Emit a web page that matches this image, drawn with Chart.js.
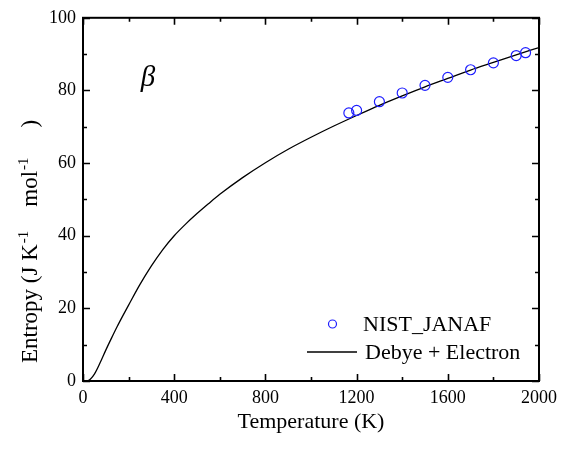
<!DOCTYPE html>
<html>
<head>
<meta charset="utf-8">
<script src="https://cdn.jsdelivr.net/npm/chart.js@4/dist/chart.umd.min.js"></script>
<style>
  html, body { margin: 0; padding: 0; background: #fff; }
  canvas { display: block; }
</style>
</head>
<body>
<canvas id="c" width="572" height="451"></canvas>
<script>
// Debye + electron model curve (temperature in K, entropy in J K^-1 mol^-1)
const modelT = [0, 25, 50, 75, 100, 125, 150, 175, 200, 250, 300, 350, 400, 450, 500, 550,
                600, 700, 800, 900, 1000, 1100, 1200, 1300, 1400, 1500, 1600, 1700, 1800, 1900, 2000];
const modelS = [0, 0.2, 1.9, 5.0, 8.5, 11.8, 15.0, 18.0, 20.9, 26.6, 31.7, 36.2, 40.0, 43.2, 46.1, 48.8,
                51.4, 56.0, 60.1, 63.8, 67.1, 70.2, 73.1, 75.9, 78.5, 81.0, 83.3, 85.6, 87.7, 89.8, 91.8];

// NIST-JANAF tabulated values
const janafT = [1166, 1200, 1300, 1400, 1500, 1600, 1700, 1800, 1900, 1941];
const janafS = [73.8, 74.5, 76.9, 79.3, 81.4, 83.6, 85.7, 87.6, 89.6, 90.4];

// Axis ticks
const xMajor = [0, 400, 800, 1200, 1600, 2000];
const xMinor = [200, 600, 1000, 1400, 1800];
const yMajor = [0, 20, 40, 60, 80, 100];
const yMinor = [10, 30, 50, 70, 90];

const SERIF = '"Liberation Serif", "Times New Roman", serif';

const toPoints = (xs, ys) => xs.map((v, i) => ({ x: v, y: ys[i] }));

// Boxed frame with inward ticks on all four sides
const framePlugin = {
  id: 'frame',
  afterDatasetsDraw(chart) {
    const { ctx, chartArea: a, scales: { x, y } } = chart;
    ctx.save();
    ctx.strokeStyle = '#000';
    ctx.lineWidth = 2;
    ctx.strokeRect(a.left, a.top, a.right - a.left, a.bottom - a.top);
    ctx.lineWidth = 1.6;
    ctx.beginPath();
    const tickX = (v, len) => {
      const px = Math.round(x.getPixelForValue(v)) + 0.5;
      ctx.moveTo(px, a.bottom); ctx.lineTo(px, a.bottom - len);
      ctx.moveTo(px, a.top); ctx.lineTo(px, a.top + len);
    };
    const tickY = (v, len) => {
      const py = Math.round(y.getPixelForValue(v)) + 0.5;
      ctx.moveTo(a.left, py); ctx.lineTo(a.left + len, py);
      ctx.moveTo(a.right, py); ctx.lineTo(a.right - len, py);
    };
    xMajor.forEach(v => tickX(v, 7));
    xMinor.forEach(v => tickX(v, 4));
    yMajor.forEach(v => tickY(v, 7));
    yMinor.forEach(v => tickY(v, 4));
    ctx.stroke();
    ctx.restore();
  }
};

// Axis titles, phase label and legend
const annotatePlugin = {
  id: 'annotate',
  afterDraw(chart) {
    const { ctx, chartArea: a, scales: { x, y } } = chart;
    ctx.save();
    ctx.fillStyle = '#000';

    // x title
    ctx.font = '22px ' + SERIF;
    ctx.textAlign = 'center';
    ctx.textBaseline = 'alphabetic';
    ctx.fillText('Temperature (K)', (a.left + a.right) / 2, 428);

    // y title with superscripts, rotated
    ctx.save();
    ctx.translate(37, 363);
    ctx.rotate(-Math.PI / 2);
    ctx.textAlign = 'left';
    const parts = [
      ['Entropy (J K', false, 1], ['-1', true, 24], ['mol', false, 1], ['-1', true, 30], [')', false, 0]
    ];
    let cx = 0;
    parts.forEach(([t, sup, gap]) => {
      ctx.font = (sup ? '15px ' : '23px ') + SERIF;
      ctx.fillText(t, cx, sup ? -9 : 0);
      cx += ctx.measureText(t).width + gap;
    });
    ctx.restore();

    // phase label
    ctx.font = 'italic 29px ' + SERIF;
    ctx.textAlign = 'center';
    ctx.textBaseline = 'alphabetic';
    ctx.fillText('\u03B2', x.getPixelForValue(285), y.getPixelForValue(81.2));

    // legend
    const ds = chart.data.datasets;
    ctx.font = '22px ' + SERIF;
    ctx.textAlign = 'left';
    ctx.textBaseline = 'middle';
    ctx.strokeStyle = ds[0].borderColor;
    ctx.lineWidth = 1.2;
    ctx.beginPath();
    ctx.arc(332.5, 324, 4, 0, Math.PI * 2);
    ctx.stroke();
    ctx.fillText(ds[0].label, 363, 325);
    ctx.strokeStyle = ds[1].borderColor;
    ctx.lineWidth = ds[1].borderWidth;
    ctx.beginPath();
    ctx.moveTo(307, 352);
    ctx.lineTo(357, 352);
    ctx.stroke();
    ctx.fillText(ds[1].label, 365, 353);
    ctx.restore();
  }
};

new Chart(document.getElementById('c'), {
  type: 'scatter',
  data: {
    datasets: [
      {
        label: 'NIST_JANAF',
        data: toPoints(janafT, janafS),
        showLine: false,
        pointStyle: 'circle',
        pointRadius: 5,
        pointBorderWidth: 1.2,
        borderColor: '#1f1fff',
        backgroundColor: 'rgba(0,0,0,0)',
        pointBackgroundColor: 'rgba(0,0,0,0)',
        order: 0
      },
      {
        label: 'Debye + Electron',
        data: toPoints(modelT, modelS),
        showLine: true,
        pointRadius: 0,
        borderColor: '#000',
        borderWidth: 1.3,
        cubicInterpolationMode: 'monotone',
        fill: false,
        order: 1
      }
    ]
  },
  options: {
    responsive: false,
    animation: false,
    devicePixelRatio: 1,
    layout: { padding: { left: 0, top: 13, right: 33, bottom: 0 } },
    plugins: { legend: { display: false }, tooltip: { enabled: false } },
    scales: {
      x: {
        type: 'linear',
        min: 0, max: 2000,
        grid: { display: false, drawTicks: false },
        border: { display: false },
        afterFit: s => { s.height = 70; },
        afterBuildTicks: s => { s.ticks = xMajor.map(v => ({ value: v })); },
        ticks: {
          color: '#000',
          padding: 6,
          maxRotation: 0,
          font: { family: SERIF, size: 18 },
          callback: v => String(v)
        }
      },
      y: {
        type: 'linear',
        min: 0, max: 100,
        grid: { display: false, drawTicks: false },
        border: { display: false },
        afterFit: s => { s.width = 83; },
        afterBuildTicks: s => { s.ticks = yMajor.map(v => ({ value: v })); },
        ticks: {
          color: '#000',
          padding: 7,
          font: { family: SERIF, size: 18 },
          callback: v => String(v)
        }
      }
    }
  },
  plugins: [framePlugin, annotatePlugin]
});
</script>
</body>
</html>
